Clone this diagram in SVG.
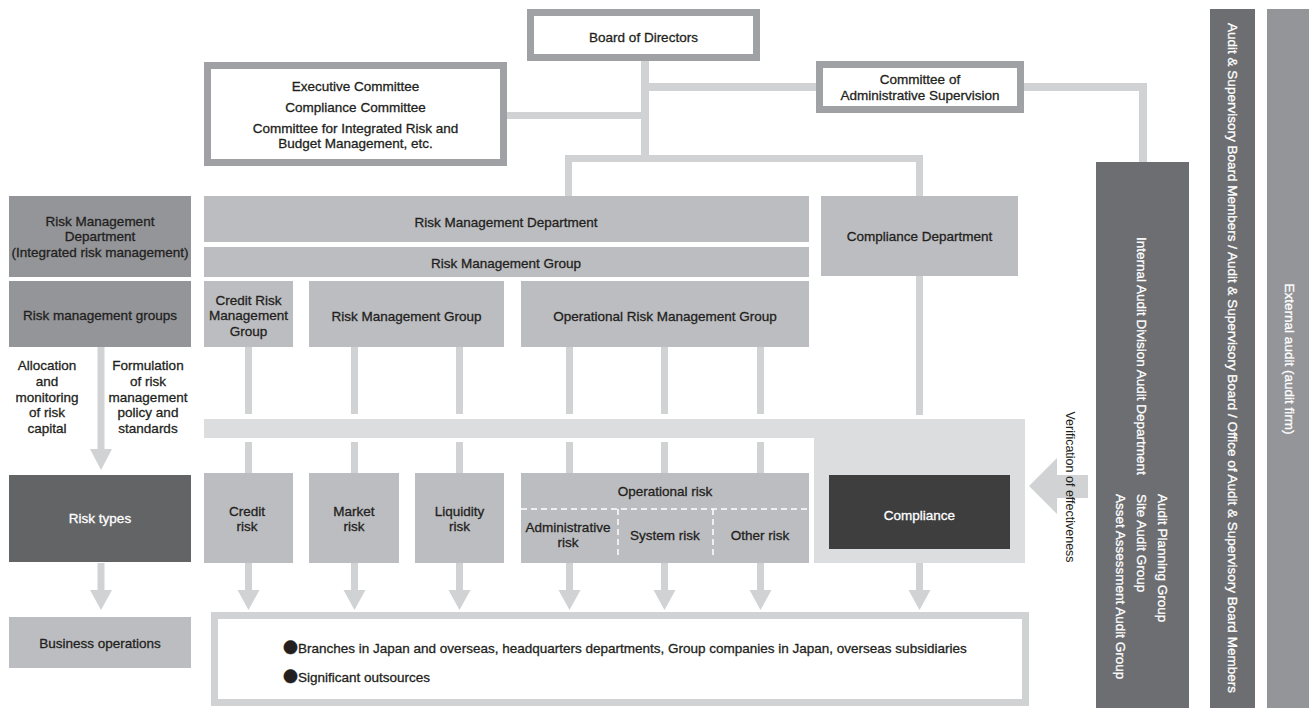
<svg xmlns="http://www.w3.org/2000/svg" width="1309" height="708" viewBox="0 0 1309 708">
<style>
text{font-family:"Liberation Sans",Arial,sans-serif;font-size:13.5px;fill:#231f20;stroke:#231f20;stroke-width:0.3;text-anchor:middle}
.w{fill:#ffffff;stroke:#ffffff}
.s{text-anchor:start}
.lt{stroke:none;font-size:12.5px}
.bul{font-family:"Noto Sans CJK JP","DejaVu Sans",sans-serif;font-size:15px}
.frame{fill:#ffffff;stroke:#a0a1a4;stroke-width:7}
.mid{fill:#bcbdc0}
.dk{fill:#939598}
.aud{fill:#6d6e71}
.ln{fill:#d1d2d4}
.band{fill:#dcdddf}
.dash{stroke:#ffffff;stroke-width:1.5;stroke-dasharray:6 4;fill:none}
</style>
<defs>
<path id="dn" d="M-3.5,0 H3.5 V27 H11 L0,47 L-11,27 H-3.5 Z"/>
</defs>

<g id="connectors">
  <rect class="ln" x="641" y="61" width="8" height="101"/>
  <rect class="ln" x="507" y="112" width="138" height="7"/>
  <rect class="ln" x="645" y="83" width="171" height="8"/>
  <rect class="ln" x="1024" y="83" width="123" height="8"/>
  <rect class="ln" x="1139" y="83" width="8" height="79"/>
  <rect class="ln" x="565" y="155" width="358" height="7"/>
  <rect class="ln" x="565" y="155" width="7" height="41"/>
  <rect class="ln" x="916" y="155" width="7" height="41"/>
  <rect class="ln" x="245" y="347" width="7" height="67"/>
  <rect class="ln" x="351" y="347" width="7" height="67"/>
  <rect class="ln" x="456" y="347" width="7" height="67"/>
  <rect class="ln" x="566" y="347" width="7" height="67"/>
  <rect class="ln" x="661" y="347" width="7" height="67"/>
  <rect class="ln" x="757" y="347" width="7" height="67"/>
  <rect class="ln" x="916" y="276" width="7" height="139"/>
  <rect class="ln" x="245" y="442" width="7" height="31"/>
  <rect class="ln" x="351" y="442" width="7" height="31"/>
  <rect class="ln" x="456" y="442" width="7" height="31"/>
  <rect class="ln" x="566" y="442" width="7" height="31"/>
  <rect class="ln" x="661" y="442" width="7" height="31"/>
  <rect class="ln" x="757" y="442" width="7" height="31"/>
  <path class="ln" d="M97.5,347 H104.5 V449 H112 L101,470 L90,449 H97.5 Z"/>
  <use href="#dn" class="ln" x="101" y="563"/>
  <use href="#dn" class="ln" x="248.5" y="563"/>
  <use href="#dn" class="ln" x="354.5" y="563"/>
  <use href="#dn" class="ln" x="459.5" y="563"/>
  <use href="#dn" class="ln" x="569.5" y="563"/>
  <use href="#dn" class="ln" x="664.5" y="563"/>
  <use href="#dn" class="ln" x="760.5" y="563"/>
  <use href="#dn" class="ln" x="919.5" y="563"/>
  <path class="ln" d="M1029,486 L1057,458 V475 H1088 V498 H1057 V514 Z"/>
</g>

<g id="band">
  <rect class="band" x="204" y="419" width="821" height="19"/>
  <rect class="band" x="814" y="419" width="211" height="144"/>
</g>

<g id="board">
  <rect class="frame" x="530.5" y="12.5" width="226" height="45"/>
  <text x="643.5" y="41.5">Board of Directors</text>
</g>
<g id="exec">
  <rect class="frame" x="207.5" y="65.5" width="296" height="97"/>
  <text x="355.5" y="90.5">Executive Committee</text>
  <text x="355.5" y="111.5">Compliance Committee</text>
  <text x="355.5" y="133">Committee for Integrated Risk and</text>
  <text x="355.5" y="147.5">Budget Management, etc.</text>
</g>
<g id="cas">
  <rect class="frame" x="819.5" y="64.5" width="201" height="45"/>
  <text x="920" y="83.5">Committee of</text>
  <text x="920" y="99.5">Administrative Supervision</text>
</g>

<g id="rmd-left">
  <rect class="dk" x="9" y="196" width="182" height="81"/>
  <text x="100" y="226">Risk Management</text>
  <text x="100" y="241">Department</text>
  <text x="100" y="257">(Integrated risk management)</text>
</g>
<g id="rmg-left">
  <rect class="dk" x="9" y="281" width="182" height="66"/>
  <text x="100" y="320">Risk management groups</text>
</g>
<g id="alloc">
  <text x="47" y="370">Allocation</text>
  <text x="47" y="386">and</text>
  <text x="47" y="402">monitoring</text>
  <text x="47" y="417">of risk</text>
  <text x="47" y="433">capital</text>
</g>
<g id="formul">
  <text x="148" y="370">Formulation</text>
  <text x="148" y="386">of risk</text>
  <text x="148" y="402">management</text>
  <text x="148" y="417">policy and</text>
  <text x="148" y="433">standards</text>
</g>

<g id="rmd">
  <rect class="mid" x="204" y="196" width="605" height="46"/>
  <text x="506" y="227">Risk Management Department</text>
</g>
<g id="rmg">
  <rect class="mid" x="204" y="247" width="605" height="30"/>
  <text x="506" y="268">Risk Management Group</text>
</g>
<g id="crmg">
  <rect class="mid" x="204" y="281" width="89" height="66"/>
  <text x="248.5" y="305">Credit Risk</text>
  <text x="248.5" y="320">Management</text>
  <text x="248.5" y="336">Group</text>
</g>
<g id="rmg2">
  <rect class="mid" x="309" y="281" width="195" height="66"/>
  <text x="406.5" y="320.5">Risk Management Group</text>
</g>
<g id="ormg">
  <rect class="mid" x="521" y="281" width="288" height="66"/>
  <text x="665" y="320.5">Operational Risk Management Group</text>
</g>
<g id="cd">
  <rect class="mid" x="821" y="196" width="197" height="80"/>
  <text x="919.5" y="241">Compliance Department</text>
</g>

<g id="risktypes">
  <rect x="9" y="475" width="182" height="87" fill="#636466"/>
  <text class="w" x="100" y="523">Risk types</text>
</g>
<g id="credit">
  <rect class="mid" x="204" y="473" width="89" height="90"/>
  <text x="247" y="516">Credit</text>
  <text x="247" y="531">risk</text>
</g>
<g id="market">
  <rect class="mid" x="309" y="473" width="90" height="90"/>
  <text x="354" y="516">Market</text>
  <text x="354" y="531">risk</text>
</g>
<g id="liquidity">
  <rect class="mid" x="415" y="473" width="89" height="90"/>
  <text x="459.5" y="516">Liquidity</text>
  <text x="459.5" y="531">risk</text>
</g>
<g id="oprisk">
  <rect class="mid" x="521" y="473" width="288" height="90"/>
  <path class="dash" d="M521,509 H809 M618,509 V558 M713,509 V558"/>
  <text x="665" y="496">Operational risk</text>
  <text x="568" y="532">Administrative</text>
  <text x="568" y="547">risk</text>
  <text x="665" y="540">System risk</text>
  <text x="760" y="540">Other risk</text>
</g>
<g id="compliance">
  <rect x="829" y="475" width="181" height="74" fill="#3e3e3f"/>
  <text class="w" x="919.5" y="520">Compliance</text>
</g>
<g id="verif">
  <text class="lt" x="1066" y="487" transform="rotate(90 1066 487)">Verification of effectiveness</text>
</g>

<g id="busops">
  <rect class="mid" x="9" y="617" width="182" height="51"/>
  <text x="100" y="648">Business operations</text>
</g>
<g id="ops">
  <rect x="214.5" y="615.5" width="811" height="87" fill="#ffffff" stroke="#d1d2d4" stroke-width="7"/>
  <text class="s" x="283" y="653"><tspan class="bul">●</tspan>Branches in Japan and overseas, headquarters departments, Group companies in Japan, overseas subsidiaries</text>
  <text class="s" x="283" y="682"><tspan class="bul">●</tspan>Significant outsources</text>
</g>

<g id="internal-audit">
  <rect class="aud" x="1096" y="162" width="93" height="546"/>
  <g transform="rotate(90)">
    <text class="w s" x="237" y="-1137">Internal Audit Division Audit Department</text>
    <text class="w s" x="494" y="-1158">Audit Planning Group</text>
    <text class="w s" x="494" y="-1137">Site Audit Group</text>
    <text class="w s" x="494" y="-1116">Asset Assessment Audit Group</text>
  </g>
</g>
<g id="asb">
  <rect class="aud" x="1210" y="9" width="45" height="699"/>
  <text class="w" x="358" y="-1228" transform="rotate(90)">Audit &amp; Supervisory Board Members / Audit &amp; Supervisory Board / Office of Audit &amp; Supervisory Board Members</text>
</g>
<g id="external">
  <rect class="dk" x="1267" y="9" width="42" height="699"/>
  <text class="w" x="359" y="-1285" transform="rotate(90)">External audit (audit firm)</text>
</g>
</svg>
